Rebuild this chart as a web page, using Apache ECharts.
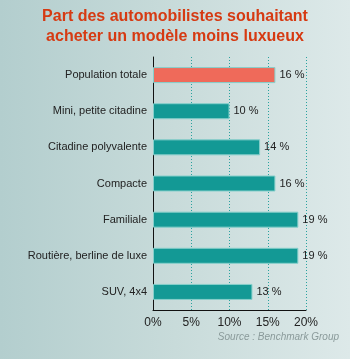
<!DOCTYPE html>
<html>
<head>
<meta charset="utf-8">
<script src="https://cdn.jsdelivr.net/npm/echarts@6/dist/echarts.min.js"></script>
<style>
  html, body { margin: 0; padding: 0; }
  #chart { width: 350px; height: 359px; }
</style>
</head>
<body>
<div id="chart"></div>
<script>
const categories = [
  'Population totale',
  'Mini, petite citadine',
  'Citadine polyvalente',
  'Compacte',
  'Familiale',
  'Routière, berline de luxe',
  'SUV, 4x4'
]
const values = [16, 10, 14, 16, 19, 19, 13]
const xTicks = [0, 5, 10, 15, 20]

const chart = echarts.init(document.getElementById('chart'))
const font = '"Liberation Sans", Arial, sans-serif'

const option = {
  animation: false,
  backgroundColor: {
    type: 'linear', x: 0, y: 0, x2: 1, y2: 0,
    colorStops: [
      { offset: 0, color: '#b3cece' },
      { offset: 0.5, color: '#c8dbda' },
      { offset: 1, color: '#dde9e9' }
    ]
  },
  title: {
    text: 'Part des automobilistes souhaitant\nacheter un modèle moins luxueux',
    left: 'center',
    top: 2,
    textStyle: {
      color: '#d63a12',
      fontFamily: font,
      fontWeight: 'bold',
      fontSize: 16,
      lineHeight: 20
    }
  },
  graphic: [{
    type: 'text',
    right: 11,
    top: 332,
    style: {
      text: 'Source : Benchmark Group',
      fill: '#8a9a9a',
      font: 'italic 10px ' + font
    }
  }],
  grid: { left: 153, right: 44, top: 57, bottom: 49 },
  xAxis: {
    type: 'value',
    min: xTicks[0],
    max: xTicks[xTicks.length - 1],
    interval: 5,
    axisLine: { show: true, lineStyle: { color: '#111', width: 1 } },
    axisTick: { show: false },
    axisLabel: {
      formatter: '{value}%',
      color: '#222',
      fontFamily: font,
      fontSize: 12,
      margin: 7
    },
    splitLine: {
      show: true,
      lineStyle: { color: '#2aa29f', type: [1, 2], width: 1 }
    }
  },
  yAxis: {
    type: 'category',
    data: categories,
    inverse: true,
    axisLine: { show: true, lineStyle: { color: '#111', width: 1 } },
    axisTick: { show: false },
    axisLabel: {
      color: '#222',
      fontFamily: font,
      fontSize: 11,
      margin: 6
    }
  },
  series: [{
    type: 'bar',
    data: values.map((v, i) => ({
      value: v,
      itemStyle: i === 0 ? { color: '#ef6a5a' } : { color: '#139995' }
    })),
    barWidth: 16,
    itemStyle: { borderColor: '#86cfcb', borderWidth: 1 },
    label: {
      show: true,
      position: 'right',
      distance: 4,
      formatter: '{c} %',
      color: '#222',
      fontFamily: font,
      fontSize: 11
    }
  }]
}
chart.setOption(option)
</script>
</body>
</html>
